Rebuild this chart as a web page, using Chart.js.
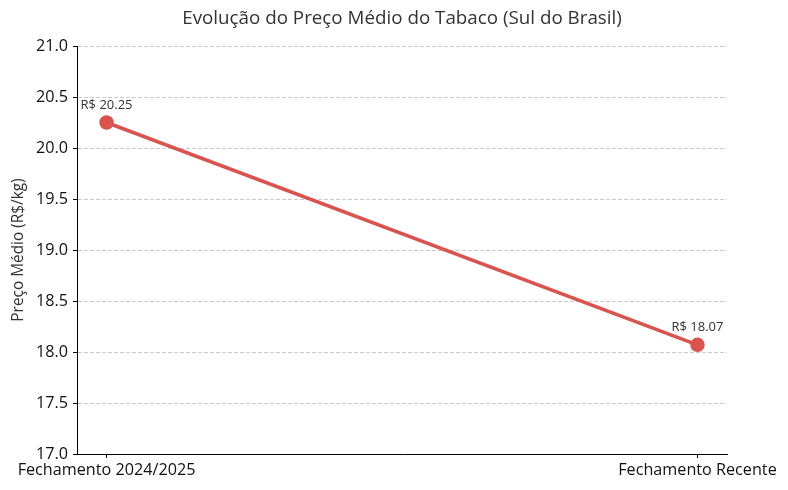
<!DOCTYPE html>
<html lang="pt-BR">
<head>
<meta charset="utf-8">
<title>Evolução do Preço Médio do Tabaco</title>
<script src="https://cdn.jsdelivr.net/npm/chart.js@4.4.1/dist/chart.umd.min.js"></script>
<style>
    html, body { margin: 0; padding: 0; background: #fff; }
    #wrap { width: 788px; height: 490px; }
</style>
</head>
<body>
<div id="wrap"><canvas id="chart"></canvas></div>
<script>
// dados do gráfico
const categorias = ['Fechamento 2024/2025', 'Fechamento Recente'];
const precos = [20.25, 18.07];
const rotulos = ['R$ 20.25', 'R$ 18.07'];
const yTicks = [17.0, 17.5, 18.0, 18.5, 19.0, 19.5, 20.0, 20.5, 21.0];
const titulo = 'Evolução do Preço Médio do Tabaco (Sul do Brasil)';

const FONTE = '"Open Sans", sans-serif';
Chart.defaults.font.family = FONTE;

// título centrado sobre a área do gráfico
const tituloCentrado = {
    id: 'tituloCentrado',
    afterDraw(chart) {
        const { ctx, chartArea } = chart;
        ctx.save();
        ctx.font = '18.8px ' + FONTE;
        ctx.fillStyle = '#333333';
        ctx.textAlign = 'center';
        ctx.textBaseline = 'middle';
        ctx.fillText(titulo, (chartArea.left + chartArea.right) / 2, 19);
        ctx.restore();
    }
};

// rótulos de valor acima dos pontos
const valueLabels = {
    id: 'valueLabels',
    afterDatasetsDraw(chart) {
        const ctx = chart.ctx;
        const meta = chart.getDatasetMeta(0);
        ctx.save();
        ctx.font = '13px ' + FONTE;
        ctx.fillStyle = '#333333';
        ctx.textAlign = 'center';
        ctx.textBaseline = 'bottom';
        meta.data.forEach((pt, i) => {
            ctx.fillText(rotulos[i], pt.x, pt.y - 11);
        });
        ctx.restore();
    }
};

new Chart(document.getElementById('chart'), {
    type: 'line',
    data: {
        datasets: [{
            data: precos.map((v, i) => ({ x: i, y: v })),
            borderColor: '#d9534f',
            backgroundColor: '#d9534f',
            borderWidth: 3.5,
            pointRadius: 5.5,
            pointHoverRadius: 5.5,
            tension: 0
        }]
    },
    options: {
        responsive: true,
        maintainAspectRatio: false,
        animation: false,
        layout: { padding: { left: 0, right: 61, top: 46, bottom: 0 } },
        plugins: {
            legend: { display: false },
            tooltip: { enabled: false },
            title: { display: false }
        },
        scales: {
            x: {
                type: 'linear',
                min: -0.05,
                max: 1.05,
                afterBuildTicks(scale) {
                    scale.ticks = categorias.map((c, i) => ({ value: i }));
                },
                afterFit(scale) { scale.height = 36; },
                ticks: {
                    color: '#111111',
                    font: { size: 16.2 },
                    padding: 3,
                    maxRotation: 0,
                    autoSkip: false,
                    callback: (v) => categorias[v]
                },
                grid: {
                    drawOnChartArea: false,
                    drawTicks: true,
                    tickLength: 4,
                    tickColor: '#000000',
                    lineWidth: 1
                },
                border: { display: true, color: '#000000', width: 1 }
            },
            y: {
                min: 17,
                max: 21,
                afterBuildTicks(scale) {
                    scale.ticks = yTicks.map(v => ({ value: v }));
                },
                afterFit(scale) { scale.width = 77; },
                ticks: {
                    color: '#111111',
                    font: { size: 16.2 },
                    padding: 5,
                    callback: (v) => v.toFixed(1)
                },
                title: {
                    display: true,
                    text: 'Preço Médio (R$/kg)',
                    color: '#333333',
                    font: { size: 15.4 },
                    padding: { top: 9.8, bottom: 0 }
                },
                grid: {
                    color: '#c8c8c8',
                    lineWidth: 1,
                    drawTicks: true,
                    tickLength: 4,
                    tickColor: '#000000'
                },
                border: { display: true, color: '#000000', width: 1, dash: [4, 2] }
            }
        }
    },
    plugins: [valueLabels, tituloCentrado]
});
</script>
</body>
</html>
